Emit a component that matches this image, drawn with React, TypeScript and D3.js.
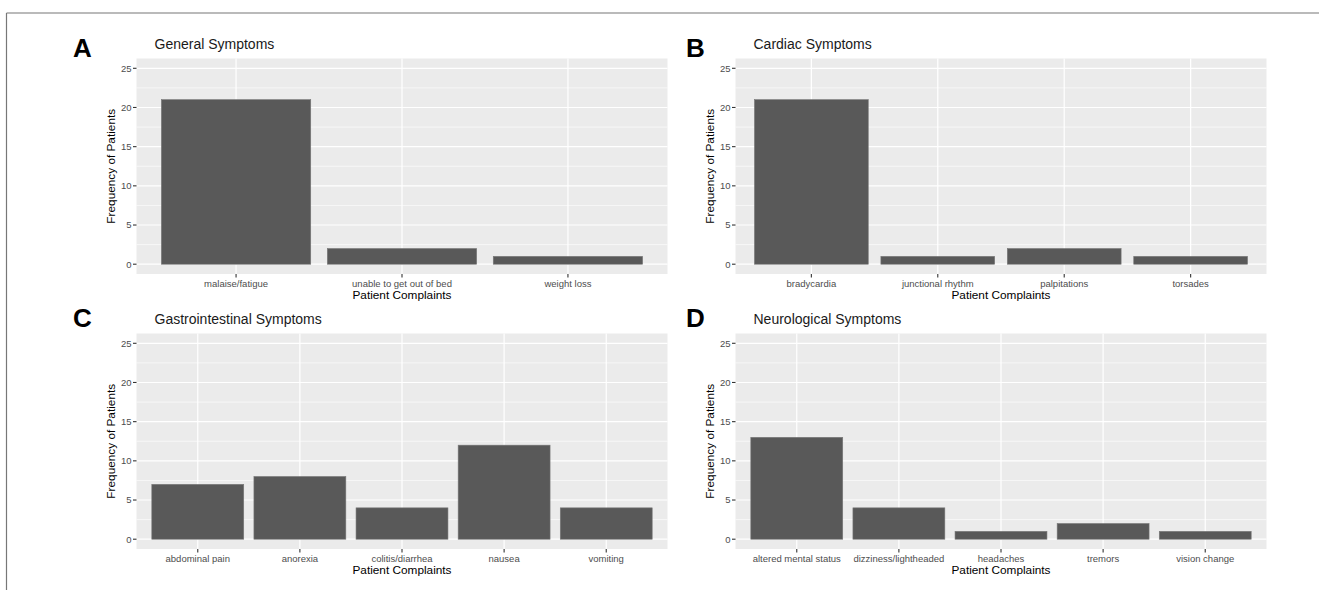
import React from "react";
import * as d3 from "d3";

const generalCategories = ["malaise/fatigue", "unable to get out of bed", "weight loss"];
const generalValues = [21, 2, 1];
const cardiacCategories = ["bradycardia", "junctional rhythm", "palpitations", "torsades"];
const cardiacValues = [21, 1, 2, 1];
const giCategories = ["abdominal pain", "anorexia", "colitis/diarrhea", "nausea", "vomiting"];
const giValues = [7, 8, 4, 12, 4];
const neuroCategories = ["altered mental status", "dizziness/lightheaded", "headaches", "tremors", "vision change"];
const neuroValues = [13, 4, 1, 2, 1];
const yTicks = [0, 5, 10, 15, 20, 25];
const yMinorTicks = [2.5, 7.5, 12.5, 17.5, 22.5];

const panelLetters = ["A", "B", "C", "D"];
const panelTitles = ["General Symptoms", "Cardiac Symptoms", "Gastrointestinal Symptoms", "Neurological Symptoms"];
const xAxisTitle = "Patient Complaints";
const yAxisTitle = "Frequency of Patients";

const FONT = "'Liberation Sans', Arial, Helvetica, sans-serif";

type PanelProps = {
  letter: string;
  title: string;
  cats: string[];
  vals: number[];
  left: number;
  right: number;
  top: number;
  bottom: number;
  letterX: number;
  letterY: number;
};

function Panel({ letter, title, cats, vals, left, right, top, bottom, letterX, letterY }: PanelProps) {
  const x = d3.scaleBand<string>().domain(cats).range([left, right]).paddingInner(0.1).paddingOuter(0.15);
  const y = d3.scaleLinear().domain([-1.25, 26.25]).range([bottom, top]);
  const bw = x.bandwidth();
  return (
    <g>
      <text x={letterX} y={letterY} fontFamily={FONT} fontWeight="bold" fontSize={26} fill="#000">{letter}</text>
      <text x={left + 18} y={top - 10} fontFamily={FONT} fontSize={14} fill="#1a1a1a">{title}</text>
      <rect x={left} y={top} width={right - left} height={bottom - top} fill="#ebebeb" />
      {yMinorTicks.map((t) => (
        <line key={"m" + t} x1={left} x2={right} y1={y(t)} y2={y(t)} stroke="#fff" strokeWidth={0.6} />
      ))}
      {yTicks.map((t) => (
        <line key={"g" + t} x1={left} x2={right} y1={y(t)} y2={y(t)} stroke="#fff" strokeWidth={1.2} />
      ))}
      {cats.map((c) => {
        const cx = (x(c) as number) + bw / 2;
        return <line key={"v" + c} x1={cx} x2={cx} y1={top} y2={bottom} stroke="#fff" strokeWidth={1.2} />;
      })}
      {cats.map((c, i) => (
        <rect
          key={"b" + c}
          x={x(c) as number}
          y={y(vals[i])}
          width={bw}
          height={y(0) - y(vals[i])}
          fill="#595959"
          stroke="#777"
          strokeWidth={0.6}
        />
      ))}
      {yTicks.map((t) => (
        <g key={"yt" + t}>
          <line x1={left - 3.5} x2={left} y1={y(t)} y2={y(t)} stroke="#333" strokeWidth={1.1} />
          <text x={left - 5} y={y(t)} dy="0.35em" textAnchor="end" fontFamily={FONT} fontSize={9.5} fill="#4d4d4d">{t}</text>
        </g>
      ))}
      {cats.map((c) => {
        const cx = (x(c) as number) + bw / 2;
        return (
          <g key={"xt" + c}>
            <line x1={cx} x2={cx} y1={bottom} y2={bottom + 3.5} stroke="#333" strokeWidth={1.1} />
            <text x={cx} y={bottom + 12.5} textAnchor="middle" fontFamily={FONT} fontSize={9.5} fill="#4d4d4d">{c}</text>
          </g>
        );
      })}
      <text x={(left + right) / 2} y={bottom + 25} textAnchor="middle" fontFamily={FONT} fontSize={11.8} fill="#000">{xAxisTitle}</text>
      <text
        transform={`translate(${left - 26},${(top + bottom) / 2}) rotate(-90)`}
        dy="0.35em"
        textAnchor="middle"
        fontFamily={FONT}
        fontSize={11.8}
        fill="#000"
      >
        {yAxisTitle}
      </text>
    </g>
  );
}

export default function App() {
  const W = 1319;
  const H = 590;
  const leftCol = { left: 136.5, right: 667.5, letterX: 73 };
  const rightCol = { left: 735.5, right: 1266.5, letterX: 686 };
  const topRow = { top: 58.5, bottom: 274, letterY: 57 };
  const botRow = { top: 333.5, bottom: 549, letterY: 327 };
  return (
    <svg width={W} height={H} style={{ position: "absolute", left: 0, top: 0, background: "#fff" }}>
      <rect x={0} y={0} width={W} height={H} fill="#fff" />
      <line x1={6.5} x2={W} y1={13} y2={13} stroke="#777" strokeWidth={1.2} />
      <line x1={6.5} x2={6.5} y1={13} y2={H} stroke="#777" strokeWidth={1.2} />
      <Panel letter={panelLetters[0]} title={panelTitles[0]} cats={generalCategories} vals={generalValues} {...leftCol} {...topRow} />
      <Panel letter={panelLetters[1]} title={panelTitles[1]} cats={cardiacCategories} vals={cardiacValues} {...rightCol} {...topRow} />
      <Panel letter={panelLetters[2]} title={panelTitles[2]} cats={giCategories} vals={giValues} {...leftCol} {...botRow} />
      <Panel letter={panelLetters[3]} title={panelTitles[3]} cats={neuroCategories} vals={neuroValues} {...rightCol} {...botRow} />
    </svg>
  );
}
